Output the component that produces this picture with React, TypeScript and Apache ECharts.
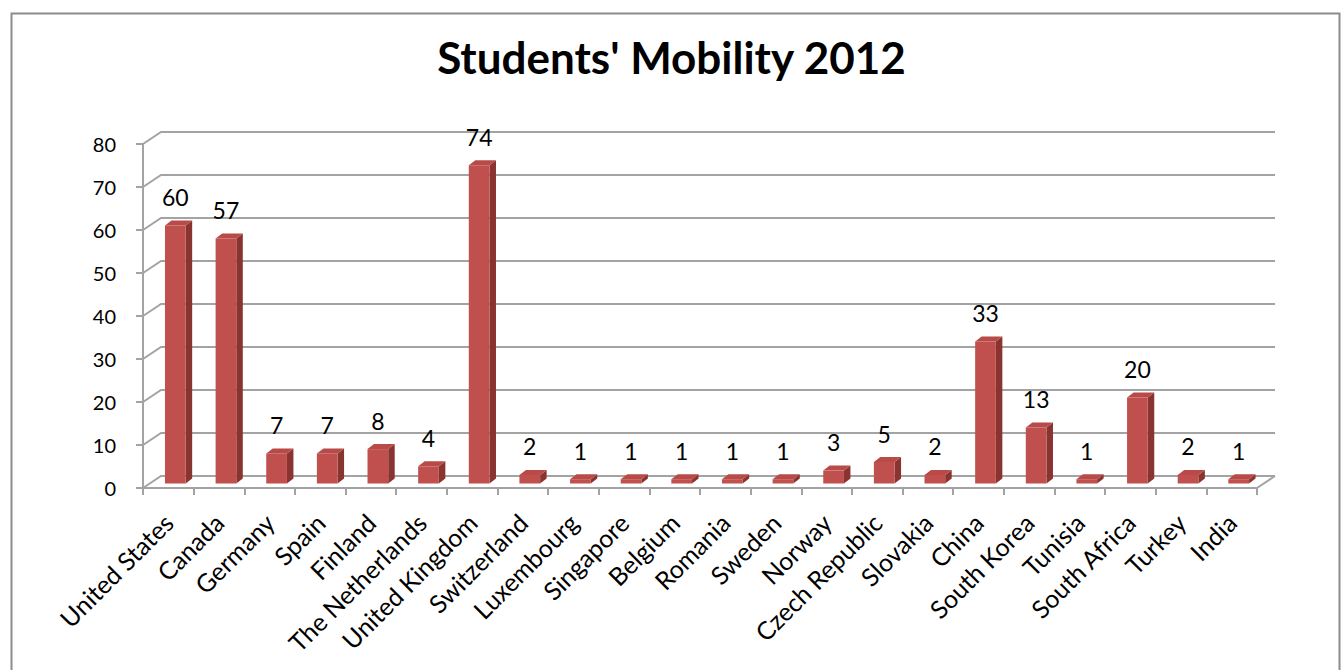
import React, { useEffect, useRef } from 'react';
import * as echarts from 'echarts';

const chartTitle = "Students' Mobility 2012";
const categories = [
  'United States', 'Canada', 'Germany', 'Spain', 'Finland', 'The Netherlands',
  'United Kingdom', 'Switzerland', 'Luxembourg', 'Singapore', 'Belgium', 'Romania',
  'Sweden', 'Norway', 'Czech Republic', 'Slovakia', 'China', 'South Korea',
  'Tunisia', 'South Africa', 'Turkey', 'India',
];
const values = [60, 57, 7, 7, 8, 4, 74, 2, 1, 1, 1, 1, 1, 3, 5, 2, 33, 13, 1, 20, 2, 1];
const yTicks = [0, 10, 20, 30, 40, 50, 60, 70, 80];

const FONT = 'Lato, "Open Sans", sans-serif';
const GRID_COLOR = '#a3a3a3';
const BACK_DX = 18;
const BACK_DY = -12;
const BAR_SHIFT_X = 7;
const BAR_SHIFT_Y = -4.5;
const BAR_HALF = 10.35;
const BAR_DX = 6.5;
const BAR_DY = -5;

export default function App() {
  const ref = useRef<HTMLDivElement>(null);
  useEffect(() => {
    if (!ref.current) return;
    const chart = echarts.init(ref.current, undefined, { renderer: 'svg' });
    const option: any = {
      animation: false,
      backgroundColor: '#ffffff',
      title: {
        text: chartTitle,
        left: 'center',
        top: 30,
        textStyle: { fontFamily: FONT, fontWeight: 'bold', fontSize: 44, color: '#000' },
      },
      graphic: [
        {
          type: 'rect',
          left: 9,
          top: 11,
          shape: { x: 0, y: 0, width: 1328, height: 700 },
          style: { fill: 'none', stroke: '#8c8c8c', lineWidth: 2 },
          silent: true,
        },
      ],
      grid: { left: 143, right: 86, top: 144, bottom: 182, containLabel: false },
      xAxis: {
        type: 'category',
        data: categories,
        boundaryGap: true,
        axisLine: { show: true, lineStyle: { color: GRID_COLOR, width: 2 } },
        axisTick: { show: true, length: 7, interval: 0, lineStyle: { color: GRID_COLOR, width: 2 } },
        axisLabel: {
          interval: 0,
          rotate: 45,
          margin: 30,
          fontFamily: FONT,
          fontSize: 25,
          color: '#000',
        },
        splitLine: { show: false },
      },
      yAxis: {
        type: 'value',
        min: 0,
        max: 80,
        interval: 10,
        axisLine: { show: true, lineStyle: { color: GRID_COLOR, width: 2 } },
        axisTick: { show: true, length: 7, lineStyle: { color: GRID_COLOR, width: 2 } },
        axisLabel: { margin: 27, fontFamily: FONT, fontSize: 20, color: '#000' },
        splitLine: { show: false },
      },
      series: [
        {
          type: 'custom',
          name: 'walls',
          z: 1,
          silent: true,
          clip: false,
          data: yTicks.map((t) => [0, t]),
          renderItem: (params: any, api: any) => {
            const v = api.value(1);
            const cs = params.coordSys;
            const y = api.coord([0, v])[1];
            const xL = cs.x;
            const xR = cs.x + cs.width;
            const children: any[] = [
              {
                type: 'polyline',
                shape: { points: [[xL, y], [xL + BACK_DX, y + BACK_DY], [xR + BACK_DX, y + BACK_DY]] },
                style: { stroke: GRID_COLOR, lineWidth: 2, fill: 'none' },
              },
            ];
            if (v === 0) {
              children.push({
                type: 'line',
                shape: { x1: xR, y1: y, x2: xR + BACK_DX, y2: y + BACK_DY },
                style: { stroke: GRID_COLOR, lineWidth: 2 },
              });
            }
            return { type: 'group', children };
          },
        },
        {
          type: 'custom',
          name: 'Students',
          z: 3,
          clip: false,
          data: values.map((v, i) => [i, v]),
          renderItem: (params: any, api: any) => {
            const idx = api.value(0);
            const v = api.value(1);
            const top = api.coord([idx, v]);
            const base = api.coord([idx, 0]);
            const cx = top[0] + BAR_SHIFT_X;
            const x1 = cx - BAR_HALF;
            const x2 = cx + BAR_HALF;
            const yT = top[1] + BAR_SHIFT_Y;
            const yB = base[1] + BAR_SHIFT_Y;
            return {
              type: 'group',
              children: [
                {
                  type: 'polygon',
                  shape: { points: [[x2, yT], [x2 + BAR_DX, yT + BAR_DY], [x2 + BAR_DX, yB + BAR_DY], [x2, yB]] },
                  style: { fill: '#8a3432' },
                },
                {
                  type: 'polygon',
                  shape: { points: [[x1, yT], [x1 + BAR_DX, yT + BAR_DY], [x2 + BAR_DX, yT + BAR_DY], [x2, yT]] },
                  style: { fill: '#b84a47' },
                },
                {
                  type: 'rect',
                  shape: { x: x1, y: yT, width: x2 - x1, height: yB - yT },
                  style: { fill: '#c0504d' },
                },
                {
                  type: 'text',
                  x: cx,
                  y: yT - 17,
                  style: {
                    text: String(v),
                    fontSize: 23,
                    fontFamily: FONT,
                    fill: '#000',
                    align: 'center',
                    verticalAlign: 'bottom',
                  },
                },
              ],
            };
          },
        },
      ],
    };
    chart.setOption(option);
    return () => chart.dispose();
  }, []);
  return (
    <div
      ref={ref}
      style={{ position: 'fixed', left: 0, top: 0, width: 1343, height: 670, background: '#fff' }}
    />
  );
}
